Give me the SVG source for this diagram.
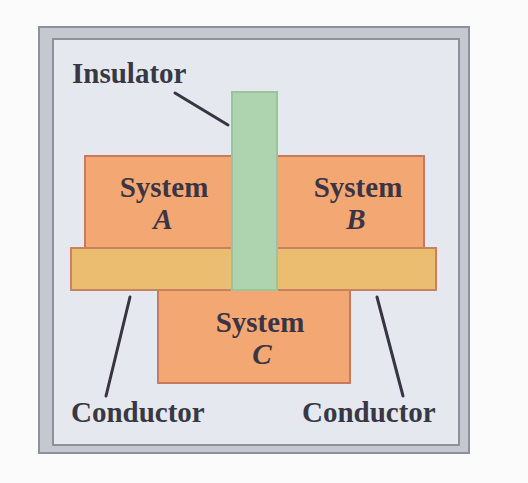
<svg xmlns="http://www.w3.org/2000/svg" width="528" height="483" viewBox="0 0 528 483">
  <style>
    .lbl { font-family: "Liberation Serif", "Times New Roman", serif; font-weight: bold; font-size: 29px; fill: #383844; }
    .sys { font-family: "Liberation Serif", "Times New Roman", serif; font-weight: bold; font-size: 29px; fill: #3c3444; text-anchor: middle; }
    .var { font-style: italic; }
    .block { fill: #f3a874; stroke: #c97a5c; stroke-width: 2; }
    .cond { fill: #ebbd70; stroke: #c9825f; stroke-width: 2; }
    .ins { fill: #add4ae; stroke: #9cc49b; stroke-width: 2; }
    .lead { stroke: #363642; stroke-width: 3; stroke-linecap: round; fill: none; }
  </style>

  <rect x="0" y="0" width="528" height="483" fill="#fbfbfb"/>

  <!-- enclosure: double-walled frame -->
  <g id="enclosure">
    <rect x="39" y="27" width="430" height="426" fill="#c6c8d0" stroke="#8e909c" stroke-width="2"/>
    <rect x="53" y="39" width="406" height="406" fill="#e6e8ef" stroke="#8e909c" stroke-width="2"/>
  </g>

  <g id="system-a">
    <rect class="block" x="85" y="156" width="147" height="92"/>
    <text class="sys" x="164" y="197">System</text>
    <text class="sys var" x="163" y="229">A</text>
  </g>

  <g id="system-b">
    <rect class="block" x="277" y="156" width="147" height="92"/>
    <text class="sys" x="358" y="197">System</text>
    <text class="sys var" x="356" y="229">B</text>
  </g>

  <g id="system-c">
    <rect class="block" x="158" y="290" width="192" height="93"/>
    <text class="sys" x="260" y="332">System</text>
    <text class="sys var" x="262" y="364">C</text>
  </g>

  <g id="conductor">
    <rect class="cond" x="71" y="248" width="365" height="42"/>
  </g>

  <g id="insulator">
    <rect class="ins" x="232" y="92" width="45" height="198"/>
  </g>

  <g id="connectors">
    <line class="lead" x1="175" y1="93" x2="228" y2="125"/>
    <line class="lead" x1="130" y1="297" x2="106" y2="396"/>
    <line class="lead" x1="377" y1="297" x2="403" y2="396"/>
  </g>

  <g id="labels">
    <text class="lbl" x="72" y="83">Insulator</text>
    <text class="lbl" x="71" y="422">Conductor</text>
    <text class="lbl" x="302" y="422">Conductor</text>
  </g>
</svg>
